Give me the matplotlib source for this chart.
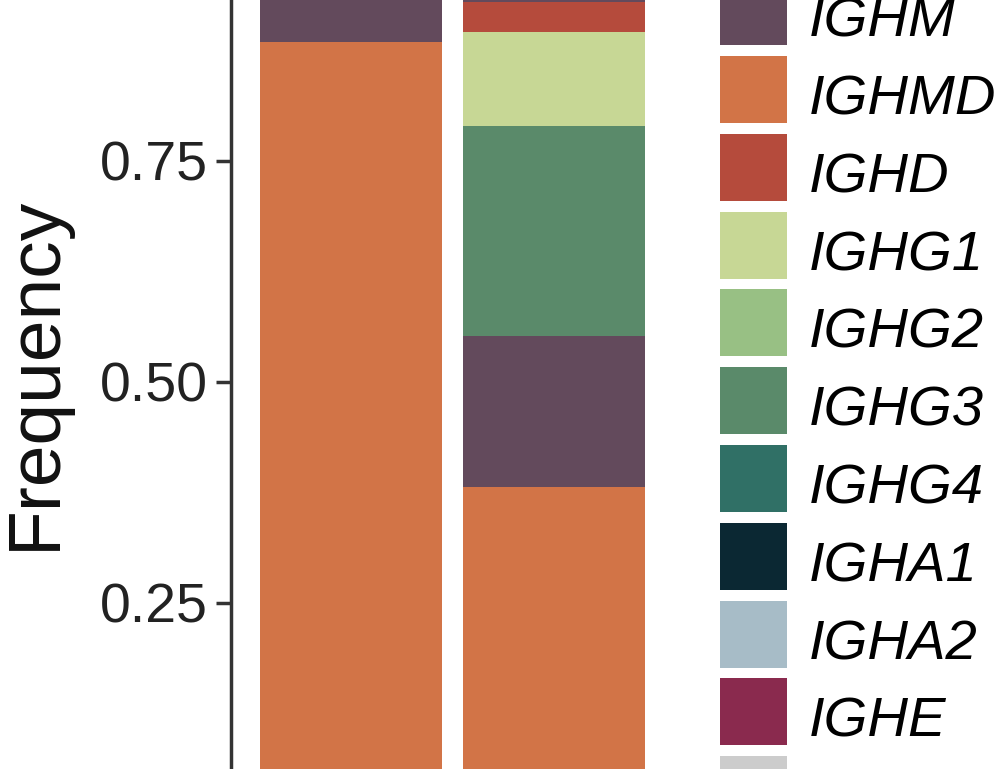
import matplotlib
matplotlib.use("Agg")
import matplotlib.pyplot as plt
from matplotlib.patches import Rectangle

plt.rcParams['font.family'] = ['Liberation Sans', 'DejaVu Sans']

# isotype colours (legend order, top to bottom)
isotypes = ['IGHM', 'IGHMD', 'IGHD', 'IGHG1', 'IGHG2', 'IGHG3',
            'IGHG4', 'IGHA1', 'IGHA2', 'IGHE', 'other']
colors = ['#634a5c', '#d27447', '#b54b3c', '#c7d795', '#98c084', '#5a8a6a',
          '#307066', '#0b2833', '#a7bcc7', '#8a2a4e', '#cccccc']
col = dict(zip(isotypes, colors))

# stacked segments, bottom to top
bar_x = [1, 2]
bar1_labels = ['IGHMD', 'IGHM']
bar1_values = [0.884, 0.116]
bar2_labels = ['IGHMD', 'IGHM', 'IGHG3', 'IGHG1', 'IGHD', 'IGHM']
bar2_values = [0.381, 0.170, 0.238, 0.106, 0.034, 0.071]

yticks = [0.25, 0.50, 0.75]
ytick_labels = ['0.25', '0.50', '0.75']

W, H = 1000, 769
fig = plt.figure(figsize=(W / 100, H / 100), dpi=100)

# axes run past the figure edges (cropped view)
ax_left, ax_w = 231, 443
y0_px, y1_px = 823.5, -60.5
ax = fig.add_axes([ax_left / W, (H - y0_px) / H, ax_w / W, (y0_px - y1_px) / H])

for x, labs, vals in [(bar_x[0], bar1_labels, bar1_values),
                      (bar_x[1], bar2_labels, bar2_values)]:
    bottom = 0
    for lab, v in zip(labs, vals):
        ax.bar(x, v, bottom=bottom, width=0.9, color=col[lab], linewidth=0)
        bottom += v

ax.set_xlim(1 - 0.591, 2.591)
ax.set_ylim(0, 1)
ax.set_yticks(yticks)
ax.set_yticklabels(ytick_labels)
ax.set_xticks([])
for s in ['top', 'right', 'bottom']:
    ax.spines[s].set_visible(False)
ax.spines['left'].set_linewidth(2.5)
ax.spines['left'].set_color('#333333')
ax.tick_params(axis='y', length=10.8, width=2.5, color='#333333',
               pad=5.8, labelsize=40, labelcolor='#222222')

fig.text(55 / W, 1 - 372.5 / H, 'Frequency', rotation=90, rotation_mode='anchor',
         ha='center', va='baseline', fontsize=54, color='#111111')

# legend drawn as keys + labels
key_x0, key_w, key_h = 720, 67, 67
row0, period = -21.8, 77.8
for i, (name, c) in enumerate(zip(isotypes, colors)):
    top = row0 + i * period
    fig.add_artist(Rectangle((key_x0 / W, 1 - (top + key_h) / H), key_w / W, key_h / H,
                             transform=fig.transFigure, facecolor=c, linewidth=0))
    if name != 'other':
        fig.text(809 / W, 1 - (top + 58.5) / H, name, fontsize=40.5, style='italic',
                 ha='left', va='baseline', color='black')

fig.savefig('out.png', dpi=100)
